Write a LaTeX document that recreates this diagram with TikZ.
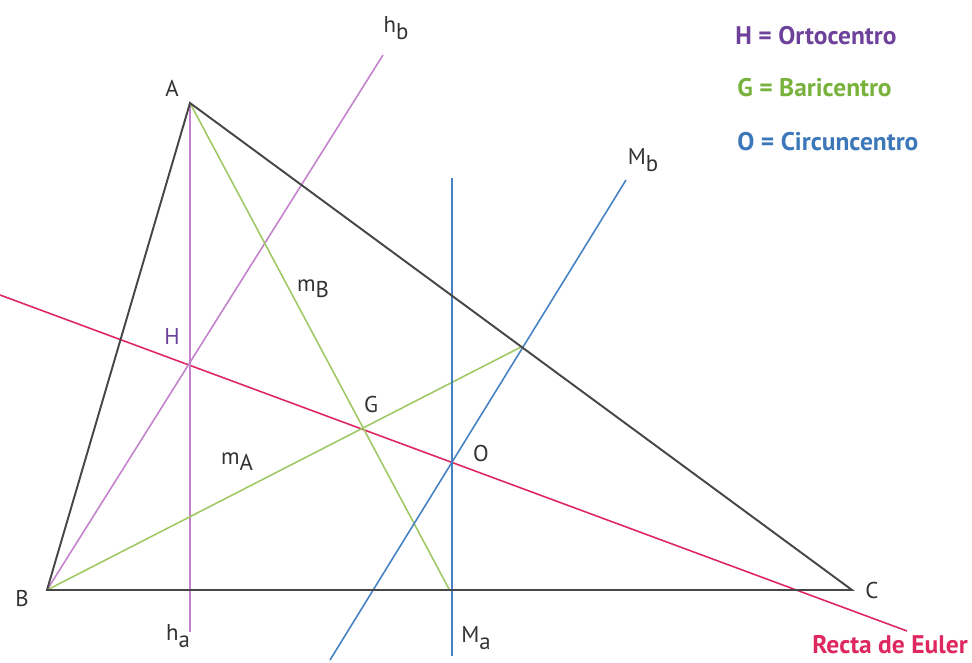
\documentclass[tikz,border=0pt]{standalone}
\usepackage{fontspec}
\setmainfont{PT Sans}
\usepackage{tikz}
\usetikzlibrary{calc}
\definecolor{trigray}{RGB}{70, 70, 70}
\definecolor{alturapink}{RGB}{196, 130, 205}
\definecolor{medianagreen}{RGB}{160, 200, 100}
\definecolor{mediatrizblue}{RGB}{70, 130, 195}
\definecolor{eulerred}{RGB}{222, 40, 95}
\definecolor{ortopurple}{RGB}{110, 65, 155}
\definecolor{barigreen}{RGB}{120, 178, 60}
\definecolor{circublue}{RGB}{60, 120, 185}
\newcommand{\sbs}[1]{\raisebox{-0.55ex}{#1}}

\begin{document}
\begin{tikzpicture}[
          x=0.02cm, y=-0.02cm,
          lbl/.style={font=\fontsize{13}{15}\selectfont, text=black!80, inner sep=0pt},
          legend/.style={anchor=west, font=\fontsize{14.5}{17}\selectfont\bfseries, inner sep=0pt},
          side/.style={draw=trigray, line width=1.1pt},
          altura/.style={draw=alturapink, line width=0.9pt},
          mediana/.style={draw=medianagreen, line width=0.9pt},
          mediatriz/.style={draw=mediatrizblue, line width=0.9pt},
          euler/.style={draw=eulerred, line width=0.9pt}
        ]
          \useasboundingbox (0,0) rectangle (972,662);

          % Vertices and points
          \coordinate (A) at (190, 103);
          \coordinate (B) at (47, 590);
          \coordinate (C) at (852, 590);
          \coordinate (mBC) at ($(B)!0.5!(C)$);
          \coordinate (mAC) at (521, 347);
          \coordinate (H) at (190, 363);
          \coordinate (G) at (363, 428);
          \coordinate (O) at (452, 462);

          % Line ends
          \coordinate (ha) at (190, 632);
          \coordinate (hb) at (383, 55);
          \coordinate (Matop) at (452, 178);
          \coordinate (Mabot) at (452, 656);
          \coordinate (Mbbot) at (330, 660);
          \coordinate (Mbtop) at (626, 180);
          \coordinate (e1) at (0, 295);
          \coordinate (e2) at (907, 631);

          % Euler line
          \draw[euler] (e1) -- (e2);

          % Altitudes
          \draw[altura] (A) -- (ha);
          \draw[altura] (B) -- (hb);

          % Medians
          \draw[mediana] (A) -- (mBC);
          \draw[mediana] (B) -- (mAC);

          % Perpendicular bisectors
          \draw[mediatriz] (Matop) -- (Mabot);
          \draw[mediatriz] (Mbbot) -- (Mbtop);

          % Triangle
          \draw[side] (A) -- (B) -- (C) -- cycle;

          % Labels
          \node[lbl] (lA) at (172, 88) {A};
          \node[lbl] (lB) at (22, 598) {B};
          \node[lbl] (lC) at (872, 590) {C};
          \node[lbl] (lha) at (178, 636) {h\sbs{a}};
          \node[lbl] (lhb) at (396, 28) {h\sbs{b}};
          \node[lbl] (lMa) at (476, 638) {M\sbs{a}};
          \node[lbl] (lMb) at (643, 160) {M\sbs{b}};
          \node[lbl] (lmB) at (313, 289) {m\sbs{B}};
          \node[lbl] (lmA) at (237, 462) {m\sbs{A}};
          \node[lbl, text=ortopurple] (lH) at (172, 337) {H};
          \node[lbl] (lG) at (371, 405) {G};
          \node[lbl] (lO) at (481, 454) {O};
          \node[lbl, font=\fontsize{14.5}{17}\selectfont\bfseries, text=eulerred] (lEuler) at (890, 645) {Recta de Euler};

          % Legend
          \node[legend, text=ortopurple] (legH) at (735, 36) {H = Ortocentro};
          \node[legend, text=barigreen] (legG) at (737, 88) {G = Baricentro};
          \node[legend, text=circublue] (legO) at (737, 142) {O = Circuncentro};
        \end{tikzpicture}
\end{document}
